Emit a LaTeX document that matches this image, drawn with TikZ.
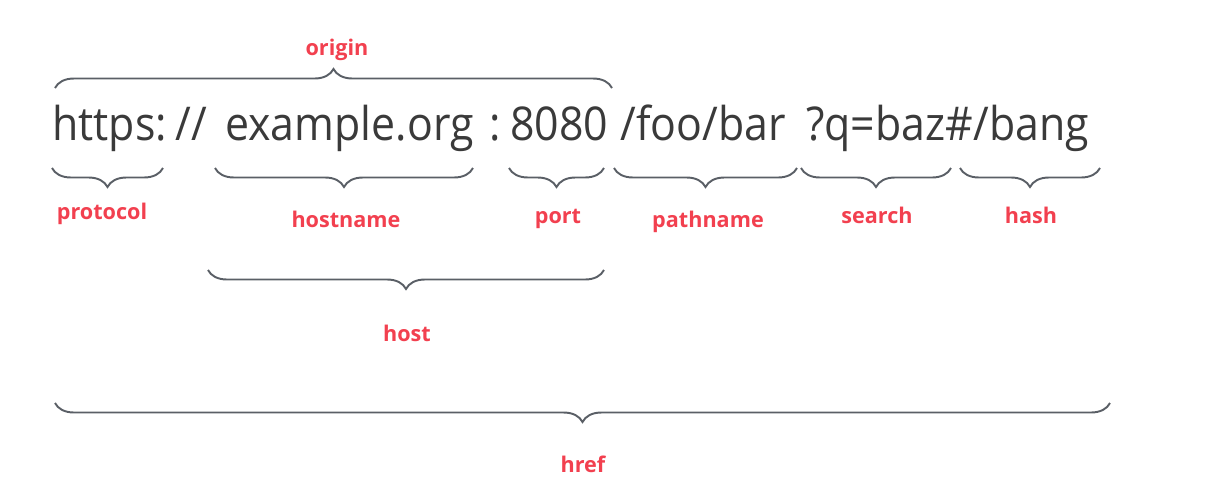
\documentclass[tikz,border=0pt]{standalone}
\usepackage{fontspec}
\setmainfont{Open Sans}
\newfontfamily\urlfont[FakeStretch=0.92]{Open Sans}
\usetikzlibrary{positioning}
\usetikzlibrary{decorations.pathreplacing}
\definecolor{urlgrey}{HTML}{3A3A3A}
\definecolor{labelred}{HTML}{F2404F}
\definecolor{bracegrey}{HTML}{5A5F66}

\begin{document}
\begin{tikzpicture}[x=0.02cm, y=-0.02cm,
                urlpart/.style={anchor=base west, inner sep=0, text=urlgrey, font=\urlfont\fontsize{26.5}{30}\selectfont},
                partlabel/.style={anchor=base, inner sep=0, text=labelred, font=\bfseries\fontsize{12.3}{14}\selectfont},
                upbrace/.style={decorate, decoration={brace, amplitude=0.38cm}, draw=bracegrey, line width=1.1pt},
                downbrace/.style={decorate, decoration={brace, mirror, amplitude=0.38cm}, draw=bracegrey, line width=1.1pt},
                ]
                \useasboundingbox (0,0) rectangle (1221,491);

                % the url
                \node[urlpart] (P) at (52,140) {https:};
                \node[urlpart] (S) at (175,140) {//};
                \node[urlpart] (H) at (225,140) {example.org};
                \node[urlpart] (C) at (489,140) {:};
                \node[urlpart] (N) at (510,140) {8080};
                \node[urlpart] (A) at (620,140) {/foo/bar};
                \node[urlpart] (Q) at (806,140) {?q=baz\#/bang};

                % brace ends
                \coordinate (origin0) at (55,88);   \coordinate (origin1) at (612,88);
                \coordinate (proto0) at (52,168);   \coordinate (proto1) at (163,168);
                \coordinate (hname0) at (215,168);  \coordinate (hname1) at (473,168);
                \coordinate (port0) at (509,168);   \coordinate (port1) at (604,168);
                \coordinate (path0) at (614,168);   \coordinate (path1) at (797,168);
                \coordinate (search0) at (801,168); \coordinate (search1) at (951,168);
                \coordinate (hash0) at (960,168);   \coordinate (hash1) at (1100,168);
                \coordinate (host0) at (208,270);   \coordinate (host1) at (604,270);
                \coordinate (href0) at (55,403);    \coordinate (href1) at (1110,403);

                \draw[upbrace] (origin0) -- (origin1);
                \draw[downbrace] (proto0) -- (proto1);
                \draw[downbrace] (hname0) -- (hname1);
                \draw[downbrace] (port0) -- (port1);
                \draw[downbrace] (path0) -- (path1);
                \draw[downbrace] (search0) -- (search1);
                \draw[downbrace] (hash0) -- (hash1);
                \draw[downbrace] (host0) -- (host1);
                \draw[downbrace] (href0) -- (href1);

                % labels
                \node[partlabel] (LO) at (337,55) {origin};
                \node[partlabel] (LP) at (102,219) {protocol};
                \node[partlabel] (LH) at (346,227) {hostname};
                \node[partlabel] (LN) at (558,223) {port};
                \node[partlabel] (LA) at (708,227) {pathname};
                \node[partlabel] (LS) at (877,223) {search};
                \node[partlabel] (LX) at (1031,223) {hash};
                \node[partlabel] (LT) at (407,341) {host};
                \node[partlabel] (LR) at (583,472) {href};
            \end{tikzpicture}
\end{document}
